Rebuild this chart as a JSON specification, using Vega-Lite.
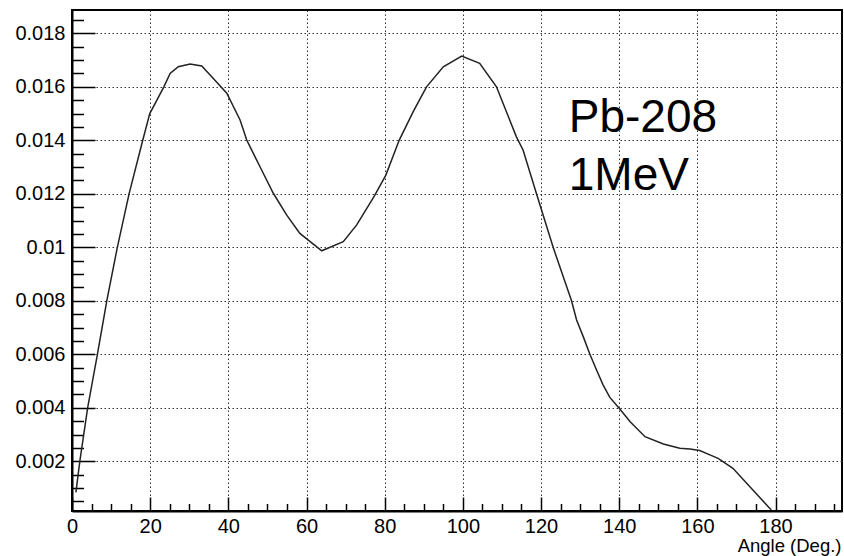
{
  "$schema": "https://vega.github.io/schema/vega-lite/v6.json",
  "width": 770,
  "height": 501,
  "autosize": {"type": "none"},
  "padding": {"left": 72, "top": 10, "right": 2, "bottom": 45},
  "background": "white",
  "config": {
    "view": {"stroke": "#000", "strokeWidth": 2},
    "font": "Liberation Sans",
    "axis": {
      "labelFont": "Liberation Sans",
      "labelFontSize": 20,
      "labelColor": "#000",
      "titleFont": "Liberation Sans",
      "titleFontWeight": "normal",
      "titleColor": "#000",
      "domainColor": "#000",
      "domainWidth": 2,
      "tickColor": "#000",
      "tickWidth": 1.5,
      "gridColor": "#333",
      "gridDash": [1.5, 2.5],
      "gridWidth": 1,
      "labelOverlap": false,
      "labelFlush": false
    }
  },
  "layer": [
    {
      "data": {
        "values": [
          {"angle": 1.0, "xs": 0.00084},
          {"angle": 2.0, "xs": 0.0020},
          {"angle": 4.0, "xs": 0.0040},
          {"angle": 6.5, "xs": 0.0060},
          {"angle": 8.9, "xs": 0.0080},
          {"angle": 11.6, "xs": 0.0100},
          {"angle": 14.6, "xs": 0.0120},
          {"angle": 18.1, "xs": 0.0140},
          {"angle": 19.9, "xs": 0.0150},
          {"angle": 23.5, "xs": 0.0160},
          {"angle": 25.1, "xs": 0.0165},
          {"angle": 27.2, "xs": 0.01675},
          {"angle": 30.2, "xs": 0.01685},
          {"angle": 33.2, "xs": 0.01678},
          {"angle": 36.1, "xs": 0.01632},
          {"angle": 39.6, "xs": 0.01576},
          {"angle": 43.0, "xs": 0.01476},
          {"angle": 44.7, "xs": 0.01401},
          {"angle": 48.1, "xs": 0.01301},
          {"angle": 51.5, "xs": 0.01202},
          {"angle": 54.9, "xs": 0.01121},
          {"angle": 58.3, "xs": 0.01052},
          {"angle": 63.9, "xs": 0.00987},
          {"angle": 69.4, "xs": 0.01021},
          {"angle": 72.8, "xs": 0.01083},
          {"angle": 77.3, "xs": 0.0119},
          {"angle": 80.3, "xs": 0.0127},
          {"angle": 83.7, "xs": 0.0140},
          {"angle": 87.3, "xs": 0.01507},
          {"angle": 90.7, "xs": 0.0160},
          {"angle": 95.0, "xs": 0.01675},
          {"angle": 99.7, "xs": 0.01715},
          {"angle": 104.3, "xs": 0.01688},
          {"angle": 108.6, "xs": 0.0160},
          {"angle": 113.7, "xs": 0.01413},
          {"angle": 115.4, "xs": 0.01364},
          {"angle": 118.8, "xs": 0.01202},
          {"angle": 123.1, "xs": 0.0100},
          {"angle": 127.8, "xs": 0.0080},
          {"angle": 129.1, "xs": 0.00728},
          {"angle": 130.8, "xs": 0.00666},
          {"angle": 132.5, "xs": 0.0060},
          {"angle": 134.2, "xs": 0.00541},
          {"angle": 135.9, "xs": 0.00485},
          {"angle": 137.6, "xs": 0.00439},
          {"angle": 140.0, "xs": 0.00398},
          {"angle": 142.8, "xs": 0.00348},
          {"angle": 146.6, "xs": 0.00292},
          {"angle": 151.3, "xs": 0.00265},
          {"angle": 155.5, "xs": 0.00249},
          {"angle": 158.1, "xs": 0.00246},
          {"angle": 160.6, "xs": 0.0024},
          {"angle": 163.2, "xs": 0.00224},
          {"angle": 165.3, "xs": 0.00211},
          {"angle": 169.1, "xs": 0.00174},
          {"angle": 174.2, "xs": 0.00093},
          {"angle": 178.9, "xs": 0.00018}
        ]
      },
      "mark": {"type": "line", "color": "#222", "strokeWidth": 1.5, "clip": true},
      "encoding": {
        "x": {
          "field": "angle",
          "type": "quantitative",
          "scale": {"domain": [0, 197], "nice": false, "zero": false},
          "axis": {
            "values": [0,5,10,15,20,25,30,35,40,45,50,55,60,65,70,75,80,85,90,95,100,105,110,115,120,125,130,135,140,145,150,155,160,165,170,175,180,185,190,195],
            "tickCount": 200,
            "labelExpr": "datum.value % 20 === 0 ? datum.label : ''",
            "tickSize": {"condition": {"test": "datum.value % 20 === 0", "value": -14}, "value": -7.5},
            "gridOpacity": {"condition": {"test": "datum.value % 20 === 0 && datum.value > 0", "value": 1}, "value": 0},
            "labelPadding": 19,
            "title": "Angle (Deg.)",
            "titleFontSize": 18.5,
            "titleAlign": "right",
            "titleAnchor": "end",
            "titleBaseline": "alphabetic",
            "titleX": 769,
            "titleY": 40.5
          }
        },
        "y": {
          "field": "xs",
          "type": "quantitative",
          "scale": {"domain": [0.000142, 0.018871], "nice": false, "zero": false},
          "axis": {
            "values": [0.0005,0.001,0.0015,0.002,0.0025,0.003,0.0035,0.004,0.0045,0.005,0.0055,0.006,0.0065,0.007,0.0075,0.008,0.0085,0.009,0.0095,0.01,0.0105,0.011,0.0115,0.012,0.0125,0.013,0.0135,0.014,0.0145,0.015,0.0155,0.016,0.0165,0.017,0.0175,0.018,0.0185],
            "tickCount": 200,
            "labelExpr": "round(datum.value*2000) % 4 === 0 ? format(datum.value, '~g') : ''",
            "tickSize": {"condition": {"test": "round(datum.value*2000) % 4 === 0", "value": -23}, "value": -11.5},
            "gridOpacity": {"condition": {"test": "round(datum.value*2000) % 4 === 0", "value": 1}, "value": 0},
            "labelPadding": 30,
            "title": null
          }
        }
      }
    },
    {
      "data": {
        "values": [
          {"label": "Pb-208", "angle": 127.1, "xs": 0.01432},
          {"label": "1MeV", "angle": 127.1, "xs": 0.01214}
        ]
      },
      "mark": {"type": "text", "align": "left", "baseline": "alphabetic", "font": "Liberation Sans", "fontSize": 46, "color": "#000"},
      "encoding": {
        "x": {"field": "angle", "type": "quantitative"},
        "y": {"field": "xs", "type": "quantitative"},
        "text": {"field": "label"}
      }
    }
  ]
}
